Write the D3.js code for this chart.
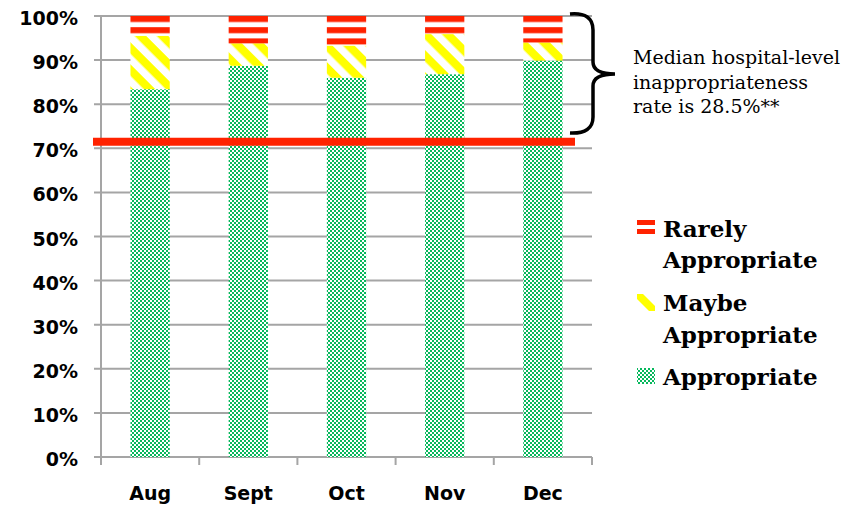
<!DOCTYPE html>
<html>
<head>
<meta charset="utf-8">
<script src="https://cdn.jsdelivr.net/npm/d3@7"></script>
<style>
  html, body { margin: 0; padding: 0; background: #fff; }
  svg { display: block; }
</style>
</head>
<body>
<svg id="chart" width="844" height="507"></svg>
<script>
// Monthly share of cases by appropriateness rating
const months = ["Aug", "Sept", "Oct", "Nov", "Dec"];
const appropriate = [0.834, 0.887, 0.860, 0.868, 0.899];
const maybeAppropriate = [0.121, 0.051, 0.073, 0.091, 0.041];
const rarelyAppropriate = [0.045, 0.062, 0.067, 0.041, 0.060];
const yTicks = [0, 0.1, 0.2, 0.3, 0.4, 0.5, 0.6, 0.7, 0.8, 0.9, 1.0];
const medianInappropriateness = 0.285;
const seriesNames = ["Appropriate", "Maybe Appropriate", "Rarely Appropriate"];
const legendLabels = [["Rarely", "Appropriate"], ["Maybe", "Appropriate"], ["Appropriate"]];
const noteLines = ["Median hospital-level", "inappropriateness", "rate is 28.5%**"];

const svg = d3.select("#chart");

const x = d3.scaleBand().domain(months).range([101, 592]).paddingInner(0.6).paddingOuter(0.3);
const y = d3.scaleLinear().domain([0, 1]).range([457, 16]);

// ---- fill patterns ----
const defs = svg.append("defs");
const GREEN = "#06b85c", YELLOW = "#ffff00", RED = "#ff2200";

const chk = defs.append("pattern").attr("id", "pat-check")
  .attr("patternUnits", "userSpaceOnUse").attr("width", 4).attr("height", 4);
chk.append("rect").attr("width", 4).attr("height", 4).attr("fill", "#fff");
chk.append("rect").attr("x", 0).attr("y", 0).attr("width", 2).attr("height", 2).attr("fill", GREEN);
chk.append("rect").attr("x", 2).attr("y", 2).attr("width", 2).attr("height", 2).attr("fill", GREEN);

const diag = defs.append("pattern").attr("id", "pat-diag")
  .attr("patternUnits", "userSpaceOnUse").attr("width", 15.6).attr("height", 15.6)
  .attr("patternTransform", "rotate(45)");
diag.append("rect").attr("width", 15.6).attr("height", 15.6).attr("fill", "#fff");
diag.append("rect").attr("width", 15.6).attr("height", 8.2).attr("fill", YELLOW);

const hstr = defs.append("pattern").attr("id", "pat-hstripe")
  .attr("patternUnits", "userSpaceOnUse").attr("width", 10).attr("height", 11.2).attr("y", 16);
hstr.append("rect").attr("width", 10).attr("height", 11.2).attr("fill", "#fff");
hstr.append("rect").attr("width", 10).attr("height", 6).attr("fill", RED);

const fills = ["url(#pat-check)", "url(#pat-diag)", "url(#pat-hstripe)"];

// ---- gridlines ----
svg.append("g").selectAll("line").data(yTicks).join("line")
  .attr("x1", 94).attr("x2", 592)
  .attr("y1", d => y(d)).attr("y2", d => y(d))
  .attr("stroke", "#a5a5a5").attr("stroke-width", 2);

// y axis line
svg.append("line").attr("x1", 101).attr("x2", 101).attr("y1", y(1)).attr("y2", y(0) + 8)
  .attr("stroke", "#a5a5a5").attr("stroke-width", 2);

// category boundary ticks
const bounds = months.map(m => x(m) - x.step() * 0.3).concat([592]);
svg.append("g").selectAll("line").data(bounds.slice(1)).join("line")
  .attr("x1", d => d).attr("x2", d => d).attr("y1", y(0)).attr("y2", y(0) + 8)
  .attr("stroke", "#a5a5a5").attr("stroke-width", 2);

// ---- stacked bars ----
const rows = months.map((m, i) => ({
  month: m,
  "Appropriate": appropriate[i],
  "Maybe Appropriate": maybeAppropriate[i],
  "Rarely Appropriate": rarelyAppropriate[i]
}));
const stacked = d3.stack().keys(seriesNames)(rows);

svg.append("g").selectAll("g").data(stacked).join("g")
  .attr("fill", (d, i) => fills[i])
  .selectAll("rect").data(d => d).join("rect")
  .attr("x", d => x(d.data.month))
  .attr("width", x.bandwidth())
  .attr("y", d => y(d[1]))
  .attr("height", d => y(d[0]) - y(d[1]));

// ---- median reference line ----
svg.append("line")
  .attr("x1", 93).attr("x2", 575)
  .attr("y1", y(1 - medianInappropriateness)).attr("y2", y(1 - medianInappropriateness))
  .attr("stroke", RED).attr("stroke-width", 8);

// ---- axis labels ----
svg.append("g").selectAll("text").data(yTicks).join("text")
  .attr("x", 78).attr("y", d => y(d) + 9)
  .attr("text-anchor", "end")
  .attr("font-family", "'DejaVu Sans', sans-serif").attr("font-weight", "bold")
  .attr("font-size", 19).attr("fill", "#000")
  .text(d => d3.format(".0%")(d));

svg.append("g").selectAll("text").data(months).join("text")
  .attr("x", d => x(d) + x.bandwidth() / 2).attr("y", 500)
  .attr("text-anchor", "middle")
  .attr("font-family", "'DejaVu Sans', sans-serif").attr("font-weight", "bold")
  .attr("font-size", 19).attr("fill", "#000")
  .text(d => d);

// ---- brace and note ----
svg.append("path")
  .attr("d", "M570,14 Q593,12 593,30 L593,62 Q593,74 615,74 Q593,74 593,86 L593,117 Q593,134 570,133")
  .attr("fill", "none").attr("stroke", "#000").attr("stroke-width", 3.5);

svg.append("g").selectAll("text").data(noteLines).join("text")
  .attr("x", 633).attr("y", (d, i) => 64 + i * 24.6)
  .attr("font-family", "'DejaVu Serif', serif").attr("font-size", 19).attr("fill", "#000")
  .text(d => d);

// ---- legend ----
const lg = svg.append("g");
// Rarely Appropriate swatch: two red bars
lg.selectAll("rect.r").data([220, 229]).join("rect")
  .attr("x", 637).attr("y", d => d).attr("width", 18).attr("height", 5).attr("fill", RED);
// Maybe Appropriate swatch: a single diagonal stripe
lg.append("path").attr("d", "M637,294 L643,294 L655,306 L655,311 L649,311 L637,299 Z").attr("fill", YELLOW);
// Appropriate swatch: checker
lg.append("rect").attr("x", 637).attr("y", 368).attr("width", 18).attr("height", 16)
  .attr("fill", "url(#pat-check)");

const legendY = [[237, 268], [311, 343], [385]];
legendLabels.forEach((lines, i) => {
  lines.forEach((t, j) => {
    lg.append("text").attr("x", 663).attr("y", legendY[i][j])
      .attr("font-family", "'DejaVu Serif', serif").attr("font-weight", "bold")
      .attr("font-size", 23).attr("fill", "#000").text(t);
  });
});
</script>
</body>
</html>
